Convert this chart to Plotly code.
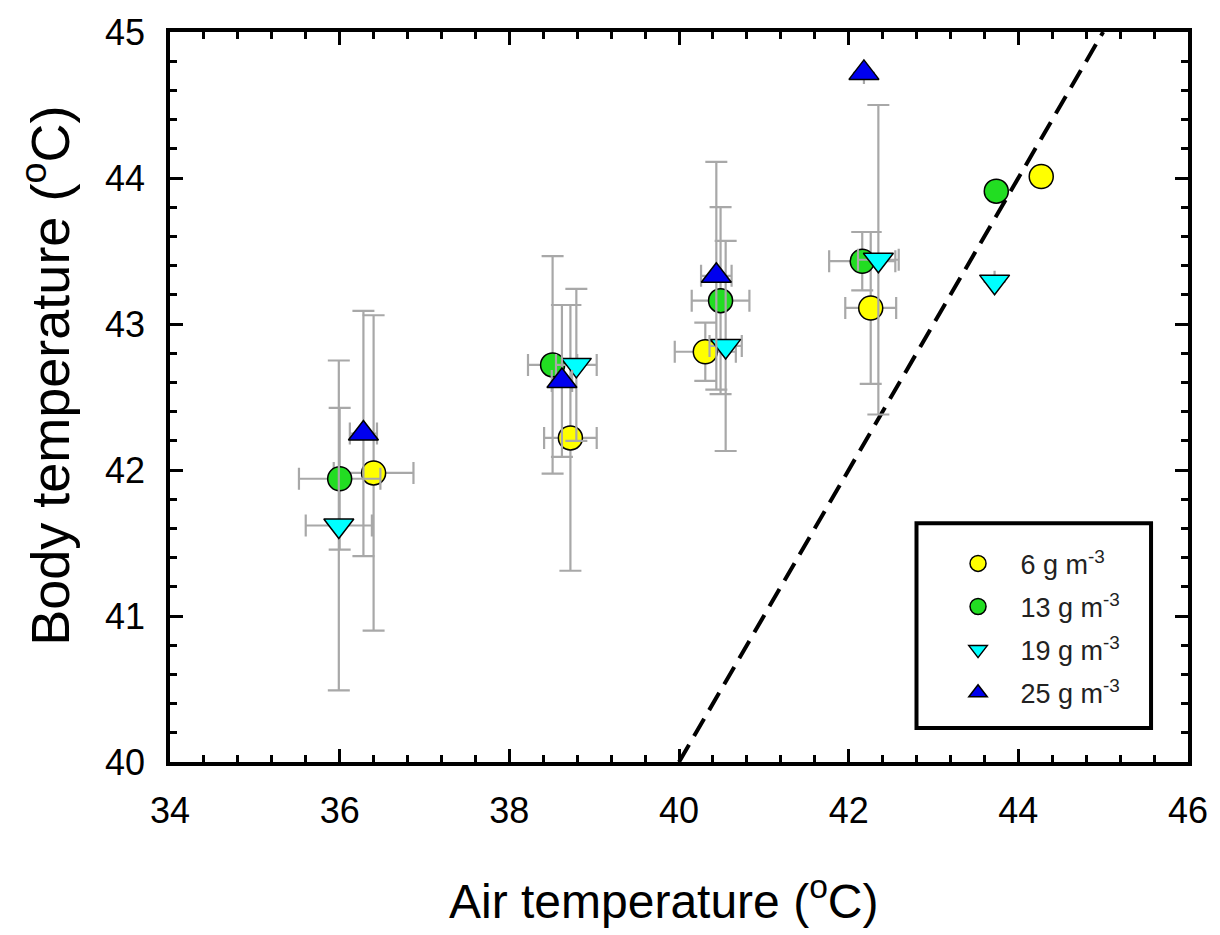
import plotly.graph_objects as go

# ---- data ----
x_6 = [36.40, 38.72, 40.31, 42.26, 44.27]
y_6 = [41.98, 42.22, 42.81, 43.11, 44.01]
xerr_6 = [0.47, 0.31, 0.36, 0.30, None]
yerr_6 = [1.08, 0.91, 0.20, 0.52, None]

x_13 = [36.00, 38.51, 40.49, 42.16, 43.74]
y_13 = [41.94, 42.72, 43.16, 43.43, 43.91]
xerr_13 = [0.48, 0.29, 0.34, 0.39, None]
yerr_13 = [0.485, 0.745, 0.64, 0.20, None]

x_19 = [35.99, 38.79, 40.55, 42.35, 43.72]
y_19 = [41.62, 42.72, 42.85, 43.44, 43.29]
xerr_19 = [0.39, 0.24, 0.19, 0.24, None]
yerr_19 = [1.13, 0.52, 0.72, 1.06, None]

x_25 = [36.28, 38.62, 40.44, 42.18]
y_25 = [42.25, 42.61, 43.33, 44.72]
xerr_25 = [0.16, 0.12, 0.18, None]
yerr_25 = [0.84, 0.52, 0.78, None]

line_x = [40, 45]
line_y = [40, 45]

x_title = "Air temperature (<sup>o</sup>C)"
y_title = "Body temperature (<sup>o</sup>C)"

series = [
    ("6 g m<sup>-3</sup>", x_6, y_6, xerr_6, yerr_6, "circle", "#FFFF00", 24),
    ("13 g m<sup>-3</sup>", x_13, y_13, xerr_13, yerr_13, "circle", "#22DD22", 24),
    ("19 g m<sup>-3</sup>", x_19, y_19, xerr_19, yerr_19, "triangle-down", "#00FFFF", 26),
    ("25 g m<sup>-3</sup>", x_25, y_25, xerr_25, yerr_25, "triangle-up", "#0000EE", 26),
]

FONT = "Liberation Sans, Arial, sans-serif"
fig = go.Figure()

fig.add_trace(go.Scatter(
    x=line_x, y=line_y, mode="lines",
    line=dict(color="black", width=4, dash="20px,10px"),
    showlegend=False, hoverinfo="skip"))

for i, (name, xs, ys, xe, ye, sym, col, sz) in enumerate(series):
    fig.add_trace(go.Scatter(
        x=xs, y=ys, mode="markers", name=name, legendgroup=f"g{i}",
        marker=dict(symbol=sym, color=col, size=sz,
                    line=dict(color="black", width=1.5)),
        error_x=dict(type="data", array=xe, visible=True,
                     color="#A8A8A8", thickness=2.2, width=11),
        error_y=dict(type="data", array=ye, visible=True,
                     color="#A8A8A8", thickness=2.2, width=11),
    ))

# legend frame (drawn as a shape so that its size matches the reference)
fig.add_shape(type="rect", xref="paper", yref="paper",
              x0=0.7333, x1=0.9637, y0=0.0465, y1=0.327,
              line=dict(color="black", width=4), fillcolor="white",
              layer="above")

# axis titles as annotations for exact placement
fig.add_annotation(text=x_title, xref="paper", yref="paper",
                   x=0.485, y=0, yshift=-136, xanchor="center", yanchor="middle",
                   showarrow=False, font=dict(size=48, family=FONT, color="black"))
fig.add_annotation(text=y_title, xref="paper", yref="paper",
                   x=0, xshift=-124, y=0.529, xanchor="center", yanchor="middle",
                   textangle=-90, showarrow=False,
                   font=dict(size=54, family=FONT, color="black"))

fig.update_layout(
    width=1220, height=935,
    margin=dict(l=162, r=40, t=24, b=181),
    paper_bgcolor="white", plot_bgcolor="white",
    font=dict(family=FONT, color="black"),
    showlegend=True,
    legend=dict(
        x=0.752, y=0.305, xanchor="left", yanchor="top",
        bgcolor="rgba(0,0,0,0)", borderwidth=0,
        font=dict(size=27, family=FONT, color="#222222"),
        itemsizing="trace", tracegroupgap=5, itemwidth=75,
    ),
    xaxis=dict(
        range=[34, 46], tick0=34, dtick=2, automargin=False,
        ticks="inside", ticklen=13, tickwidth=3, tickcolor="black",
        showline=True, linewidth=3.5, linecolor="black", mirror="ticks",
        showgrid=False, zeroline=False,
        tickfont=dict(size=36, family=FONT),
        ticklabelstandoff=14,
        minor=dict(tick0=34, dtick=0.4, ticks="inside", ticklen=7,
                   tickwidth=3, tickcolor="black", showgrid=False),
    ),
    yaxis=dict(
        range=[40, 45], tick0=40, dtick=1, automargin=False,
        ticks="inside", ticklen=13, tickwidth=3, tickcolor="black",
        showline=True, linewidth=3.5, linecolor="black", mirror="ticks",
        showgrid=False, zeroline=False,
        tickfont=dict(size=36, family=FONT),
        ticklabelstandoff=14,
        minor=dict(tick0=40, dtick=0.2, ticks="inside", ticklen=7,
                   tickwidth=3, tickcolor="black", showgrid=False),
    ),
)

fig.write_html("out.html")
